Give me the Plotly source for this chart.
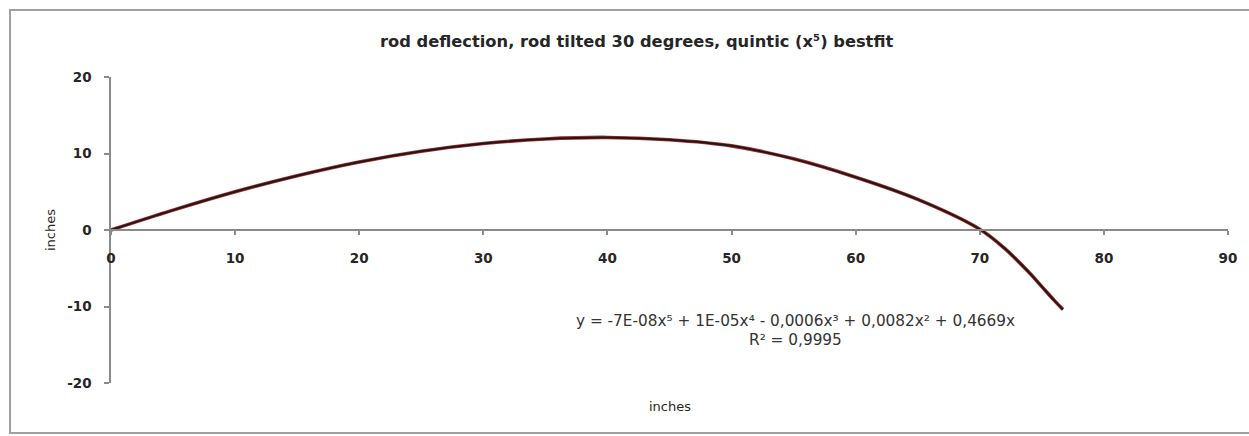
import plotly.graph_objects as go

# Data (inches)
x_pos = [0, 5, 10, 15, 20, 25, 30, 35, 40, 45, 50, 55, 60, 65, 70, 72, 74, 75, 76, 76.7]
deflection = [0, 2.6, 5.0, 7.1, 8.9, 10.3, 11.3, 11.9, 12.1, 11.8, 11.0, 9.3, 6.9, 4.0, 0.1, -2.4, -5.6, -7.4, -9.2, -10.4]
trend = [0, 2.6, 5.0, 7.1, 8.9, 10.3, 11.3, 11.9, 12.1, 11.8, 11.0, 9.3, 6.9, 4.0, 0.1, -2.4, -5.6, -7.4, -9.2, -10.4]

x_ticks = [0, 10, 20, 30, 40, 50, 60, 70, 80, 90]
y_ticks = [-20, -10, 0, 10, 20]

title_text = "rod deflection, rod tilted 30 degrees, quintic (x⁵) bestfit"
eq_text = "y = -7E-08x⁵ + 1E-05x⁴ - 0,0006x³ + 0,0082x² + 0,4669x"
r2_text = "R² = 0,9995"
axis_title = "inches"

W, H = 1249, 436
L, R, T, B = 111, 21, 77, 53
pw, ph = W - L - R, H - T - B

def px(x):
    return (x - L) / pw

def py(y):
    return (H - B - y) / ph

FONT = "DejaVu Sans"
AXIS_COLOR = "#8a8a8a"
TXT = "#262626"

fig = go.Figure()
fig.add_trace(go.Scatter(x=x_pos, y=trend, mode="lines", line=dict(color="#b22a2a", width=3.6, shape="spline"),
                         hoverinfo="skip", showlegend=False))
fig.add_trace(go.Scatter(x=x_pos, y=deflection, mode="lines", line=dict(color="#1a1a1a", width=2.0, shape="spline"),
                         showlegend=False))

fig.update_layout(
    width=W, height=H,
    margin=dict(l=L, r=R, t=T, b=B),
    paper_bgcolor="white", plot_bgcolor="white",
    font=dict(family=FONT, color=TXT),
    xaxis=dict(range=[0, 90], tickvals=x_ticks, ticktext=[str(v) for v in x_ticks],
               showgrid=False, zeroline=False, showline=True, linecolor=AXIS_COLOR, linewidth=1.5,
               ticks="outside", ticklen=4, tickcolor=AXIS_COLOR, tickwidth=1.5,
               anchor="free", position=0.5,
               tickfont=dict(family=FONT, size=13.5, color=TXT, weight="bold"),
               ticklabelstandoff=12),
    yaxis=dict(range=[-20, 20], tickvals=y_ticks, ticktext=[str(v) for v in y_ticks],
               showgrid=False, zeroline=False, showline=True, linecolor=AXIS_COLOR, linewidth=1.5,
               ticks="outside", ticklen=5, tickcolor=AXIS_COLOR, tickwidth=1.5,
               tickfont=dict(family=FONT, size=13.5, color=TXT, weight="bold"),
               ticklabelstandoff=10),
)

fig.add_shape(type="rect", xref="paper", yref="paper",
              x0=px(10), x1=px(1320), y0=py(433), y1=py(10),
              line=dict(color="#a0a0a0", width=2), fillcolor="rgba(0,0,0,0)", layer="below")

def note(text, x, y, size, bold=False, angle=0, color=TXT):
    fig.add_annotation(text=text, xref="paper", yref="paper", x=px(x), y=py(y),
                       xanchor="center", yanchor="middle", showarrow=False, textangle=angle,
                       font=dict(family=FONT, size=size, color=color, weight="bold" if bold else "normal"))

note(title_text, 636, 42, 16.3, bold=True)
note(axis_title, 670, 406, 13)
note(axis_title, 50, 230, 13, angle=-90)
note(eq_text, 795, 321, 15.3, color="#333333")
note(r2_text, 795, 340, 15.3, color="#333333")

fig.write_html("out.html", config={"displayModeBar": False},
               post_script="document.body.style.margin='0';document.body.style.overflow='hidden';")
